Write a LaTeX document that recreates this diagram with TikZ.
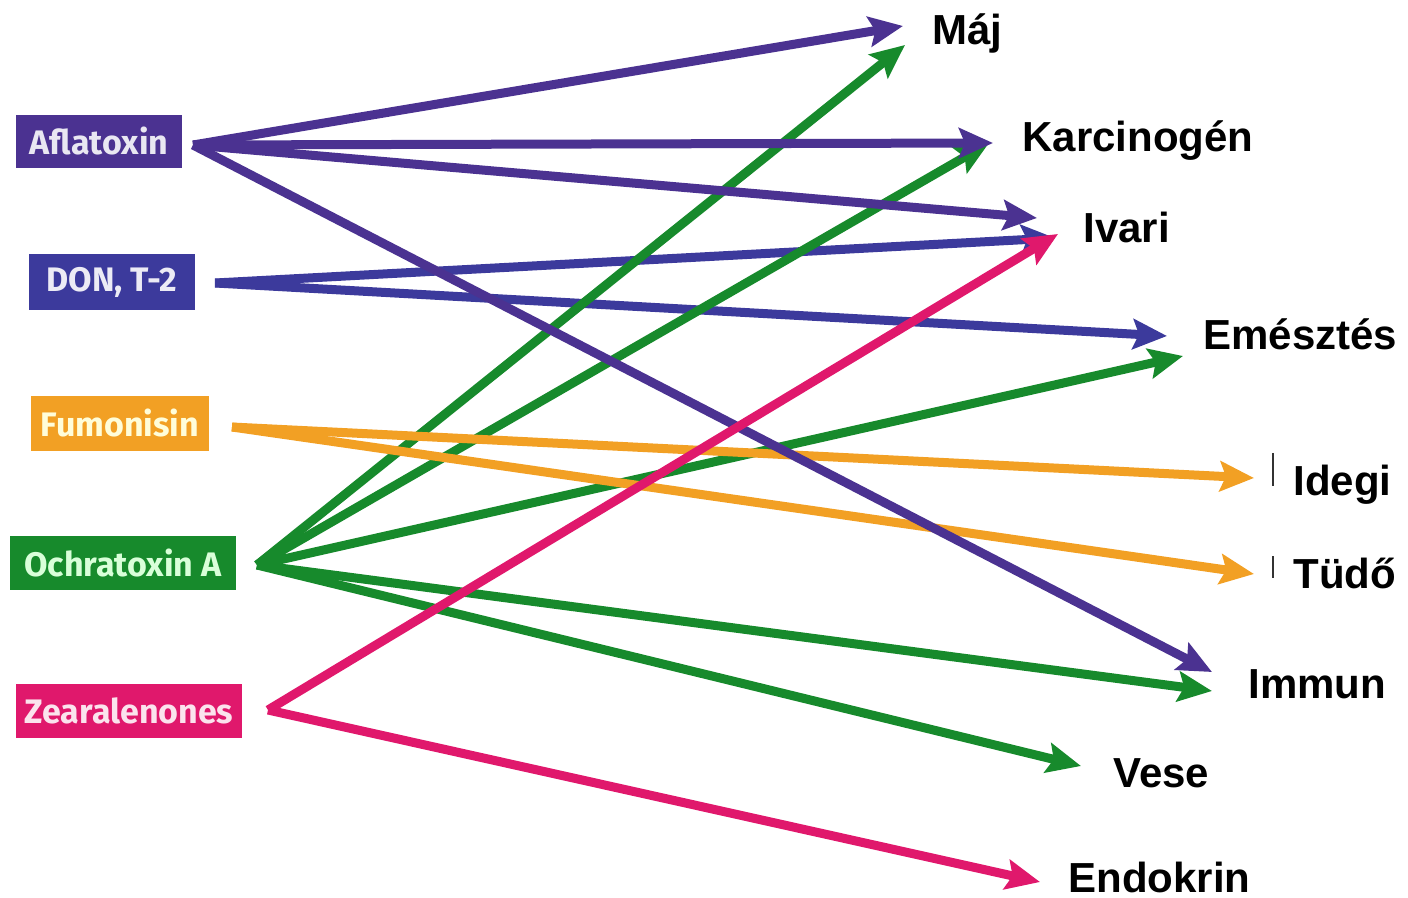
\documentclass[tikz,border=0pt]{standalone}
\usepackage{fontspec}
\setmainfont{Liberation Sans}
\newfontfamily\boxfont{Fira Sans}
\usetikzlibrary{arrows.meta}
\definecolor{cafl}{HTML}{4B3291}
\definecolor{cdon}{HTML}{3C3A9C}
\definecolor{cfum}{HTML}{F2A024}
\definecolor{coch}{HTML}{178A2C}
\definecolor{czea}{HTML}{E0186C}
\tikzset{
  srcbox/.style={draw=none, inner sep=0pt, font=\boxfont\bfseries\fontsize{17}{17}\selectfont},
  lab/.style={inner sep=0pt, font=\bfseries\fontsize{21}{21}\selectfont, anchor=base west},
  conn/.style={line width=4.5pt, line cap=butt, -{Stealth[length=17pt,width=15pt,inset=3pt]}},
  bar/.style={line width=1pt, black!80}
}
\begin{document}
\begin{tikzpicture}[x=0.5pt,y=-0.5pt]
\useasboundingbox (0,0) rectangle (1408,898);
% source boxes
\node[srcbox, fill=cafl, text=white!88!cafl, minimum width=83pt, minimum height=26.5pt] (afl) at (99,141.5) {Aflatoxin};
\node[srcbox, fill=cdon, text=white!90!cdon, minimum width=83pt, minimum height=28pt] (don) at (112,282) {DON, T-2};
\node[srcbox, fill=cfum, text=white!85!yellow, minimum width=89pt, minimum height=27.5pt] (fum) at (120,423.5) {Fumonisin};
\node[srcbox, fill=coch, text=white!85!green, minimum width=113pt, minimum height=27pt] (och) at (123,563) {Ochratoxin A};
\node[srcbox, fill=czea, text=white!88!czea, minimum width=113pt, minimum height=27pt] (zea) at (129,711) {Zearalenones};
% source points
\coordinate (s-afl) at (193,145);
\coordinate (s-don) at (215,283);
\coordinate (s-fum) at (232,427);
\coordinate (s-och) at (257,565);
\coordinate (s-zea) at (268,710);
% target labels
\node[lab] (maj) at (932,45) {Máj};
\node[lab] (kar) at (1022,152) {Karcinogén};
\node[lab] (iva) at (1083,243) {Ivari};
\node[lab] (eme) at (1203,350) {Emésztés};
\node[lab] (ide) at (1293,495) {Idegi};
\node[lab] (tud) at (1293,588) {Tüdő};
\node[lab] (imm) at (1248,698) {Immun};
\node[lab] (ves) at (1113,787) {Vese};
\node[lab] (end) at (1068,892) {Endokrin};
% small marks
\coordinate (b1a) at (1273,453); \coordinate (b1b) at (1273,486);
\coordinate (b2a) at (1273,556); \coordinate (b2b) at (1273,578);
\draw[bar] (b1a) -- (b1b);
\draw[bar] (b2a) -- (b2b);
% arrow tips
\coordinate (t-afl-maj) at (903,26);
\coordinate (t-och-maj) at (905,45);
\coordinate (t-afl-kar) at (993,143);
\coordinate (t-och-kar) at (989,143);
\coordinate (t-afl-iva) at (1037,218);
\coordinate (t-don-iva) at (1055,238);
\coordinate (t-zea-iva) at (1058,234);
\coordinate (t-don-eme) at (1167,336);
\coordinate (t-och-eme) at (1183,356);
\coordinate (t-fum-ide) at (1254,478);
\coordinate (t-fum-tud) at (1254,574);
\coordinate (t-afl-imm) at (1212,672);
\coordinate (t-och-imm) at (1212,691);
\coordinate (t-och-ves) at (1081,766);
\coordinate (t-zea-end) at (1040,882);
% connectors
\draw[conn, cdon] (s-don) -- (t-don-iva);
\draw[conn, cdon] (s-don) -- (t-don-eme);
\draw[conn, coch] (s-och) -- (t-och-maj);
\draw[conn, coch] (s-och) -- (t-och-kar);
\draw[conn, coch] (s-och) -- (t-och-eme);
\draw[conn, coch] (s-och) -- (t-och-imm);
\draw[conn, coch] (s-och) -- (t-och-ves);
\draw[conn, cfum] (s-fum) -- (t-fum-ide);
\draw[conn, cfum] (s-fum) -- (t-fum-tud);
\draw[conn, cafl] (s-afl) -- (t-afl-maj);
\draw[conn, cafl] (s-afl) -- (t-afl-kar);
\draw[conn, cafl] (s-afl) -- (t-afl-iva);
\draw[conn, cafl] (s-afl) -- (t-afl-imm);
\draw[conn, czea] (s-zea) -- (t-zea-iva);
\draw[conn, czea] (s-zea) -- (t-zea-end);
\end{tikzpicture}
\end{document}
